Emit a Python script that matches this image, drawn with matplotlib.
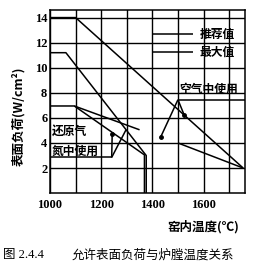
import matplotlib
matplotlib.use("Agg")
import matplotlib.pyplot as plt
import numpy as np

plt.rcParams['font.family'] = ['Noto Sans CJK SC', 'DejaVu Sans']

# curves (temperature in C, load in W/cm2)
rec_air_t = [1000, 1100, 1755]
rec_air_w = [14, 14, 2]
max_red_t = [1000, 1062, 1376, 1376]
max_red_w = [11.2, 11.2, 3.0, 0]
rec_red_short_t = [1000, 1095, 1350]
rec_red_short_w = [6.95, 6.95, 5.05]
rec_red_t = [1095, 1369, 1369]
rec_red_w = [6.95, 3.05, 0]
low_air_t = [1500, 1755]
low_air_w = [4.0, 2.0]

# legend strokes and pointer lines
leg_t = [1400, 1560]
leg_rec_w = [12.7, 12.7]
leg_max_w = [11.25, 11.25]
air_line_t = [1500, 1762]
air_line_w = [7.45, 7.45]
air_ptr1_t = [1500, 1525]
air_ptr1_w = [7.45, 6.2]
air_ptr2_t = [1500, 1432]
air_ptr2_w = [7.45, 4.45]
red_line_t = [1000, 1241]
red_line_w = [2.85, 2.85]
red_ptr1_t = [1241, 1243]
red_ptr1_w = [2.85, 4.75]
red_ptr2_t = [1241, 1297]
red_ptr2_w = [2.85, 5.05]

xticks = [1000, 1200, 1400, 1600]
yticks = [2, 4, 6, 8, 10, 12, 14]

fig = plt.figure(figsize=(2.62, 2.72), dpi=100)
ax = fig.add_axes([0.191, 0.290, 0.744, 0.673])

lw = 1.1
for t, w in [(rec_air_t, rec_air_w), (max_red_t, max_red_w),
             (rec_red_short_t, rec_red_short_w), (rec_red_t, rec_red_w),
             (low_air_t, low_air_w), (leg_t, leg_rec_w), (leg_t, leg_max_w),
             (air_line_t, air_line_w), (air_ptr1_t, air_ptr1_w),
             (air_ptr2_t, air_ptr2_w), (red_line_t, red_line_w),
             (red_ptr1_t, red_ptr1_w), (red_ptr2_t, red_ptr2_w)]:
    ax.plot(t, w, color='black', lw=lw, solid_capstyle='butt')

ax.plot([air_ptr1_t[1], air_ptr2_t[1], red_ptr1_t[1]],
        [air_ptr1_w[1], air_ptr2_w[1], red_ptr1_w[1]],
        'o', color='black', ms=2.5)

ax.set_xlim(1000, 1762)
ax.set_ylim(0, 14.6)
ax.set_xticks(np.arange(1000, 1800, 100))
ax.set_xticklabels([str(v) if v in xticks else '' for v in range(1000, 1800, 100)],
                   family='Liberation Serif', fontsize=9, fontweight='bold')
ax.set_yticks(yticks)
ax.set_yticklabels([str(v) for v in yticks], family='Liberation Serif',
                   fontsize=9, fontweight='bold')
ax.tick_params(length=0, pad=2)
ax.tick_params(axis='x', pad=4)
ax.grid(True, color='black', lw=1.0)
for s in ax.spines.values():
    s.set_linewidth(1.1)

tk = dict(fontsize=8.5, fontweight='bold', va='center')
ax.text(1584, 12.65, '推荐值', **tk)
ax.text(1584, 11.25, '最大值', **tk)
ax.text(1504, 8.3, '空气中使用', **tk)
ax.text(1008, 4.9, '还原气', **tk)
ax.text(1008, 3.3, '氮中使用', **tk)

fig.text(0.069, 0.574, '表面负荷(W/cm²)', rotation=90, ha='center', va='center',
         fontsize=9, fontweight='bold')
fig.text(0.775, 0.165, '窑内温度(℃)', ha='center', va='center',
         fontsize=9, fontweight='bold')
fig.text(0.012, 0.062, '图 2.4.4', ha='left', va='center', fontsize=9,
         family=['Liberation Serif', 'Noto Sans CJK SC'])
fig.text(0.275, 0.062, '允许表面负荷与炉膛温度关系', ha='left', va='center', fontsize=9)

fig.savefig('out.png', dpi=100)
